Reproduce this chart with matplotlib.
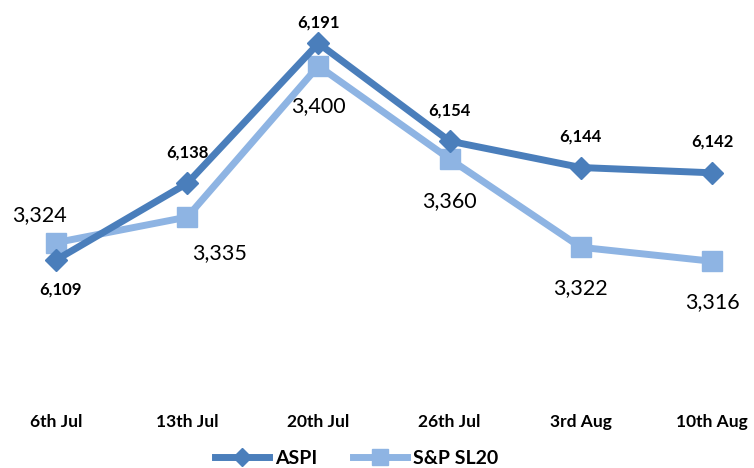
import matplotlib
matplotlib.use("Agg")
import matplotlib.pyplot as plt

plt.rcParams['font.family'] = ['Lato', 'DejaVu Sans']

dates = ["6th Jul", "13th Jul", "20th Jul", "26th Jul", "3rd Aug", "10th Aug"]
aspi = [6109, 6138, 6191, 6154, 6144, 6142]
spsl20 = [3324, 3335, 3400, 3360, 3322, 3316]

dark = "#4A7EBB"
light = "#8EB4E3"

fig = plt.figure(figsize=(7.54, 4.68), dpi=100)
ax = fig.add_axes([0, 78 / 468, 1, 390 / 468])
ax2 = ax.twinx()
x = list(range(len(dates)))

# S&P SL20 underneath, ASPI on top
l2, = ax.plot(x, spsl20, color=light, lw=5, marker="s", ms=14, label="S&P SL20")
l1, = ax2.plot(x, aspi, color=dark, lw=5, marker="D", ms=11, label="ASPI")

ax.set_xlim(-56 / 131.2, 5 + 42 / 131.2)
ax.set_ylim(3260.6, 3428.4)
ax2.set_ylim(6059.8, 6207.4)

# label offsets in pixels (dx, dy)
sp_off = [(-17, 28), (32, -36), (0, -40), (0, -42), (0, -41), (0, -41)]
for i, v in enumerate(spsl20):
    ax.annotate(f"{v:,}", (i, v), xytext=sp_off[i], textcoords="offset pixels",
                ha="center", va="center", fontsize=15.5, color="black")
for i, v in enumerate(aspi):
    dy = -30 if i == 0 else (21 if i == 2 else 31)
    ax2.annotate(f"{v:,}", (i, v), xytext=(4 if i == 0 else 0, dy), textcoords="offset pixels",
                 ha="center", va="center", fontsize=12, fontweight="bold", color="black")

for a in (ax, ax2):
    for s in a.spines.values():
        s.set_visible(False)
    a.set_yticks([])
ax.set_xticks(x)
ax.set_xticklabels(dates, fontsize=12.5, fontweight="bold")
ax.tick_params(axis="x", length=0, pad=17)

fig.legend(handles=[l1, l2], loc="center", bbox_to_anchor=(356.5 / 754, 1 - 458 / 468), ncol=2,
           frameon=False, prop={"size": 14, "weight": "bold"}, handlelength=2.8,
           columnspacing=1.8, handletextpad=0.3, markerscale=0.8, borderpad=0)

fig.savefig("out.png", dpi=100)
